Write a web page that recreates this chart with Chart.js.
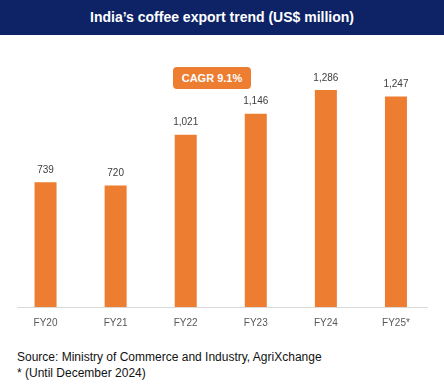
<!DOCTYPE html>
<html>
<head>
<meta charset="utf-8">
<script src="https://cdn.jsdelivr.net/npm/chart.js@4"></script>
<style>
    body {
        margin: 0;
        width: 444px;
        height: 388px;
        background: #ffffff;
        font-family: "Liberation Sans", Arial, sans-serif;
        position: relative;
        overflow: hidden;
    }
    .titleBar {
        position: absolute;
        left: 0;
        top: 0;
        width: 444px;
        height: 35px;
        background: #0d2366;
        color: #ffffff;
        font-weight: bold;
        font-size: 14px;
        line-height: 35px;
        text-align: center;
    }
    .chartBox {
        position: absolute;
        left: 0;
        top: 35px;
        width: 444px;
        height: 305px;
    }
    .cagr {
        position: absolute;
        left: 173px;
        top: 67px;
        width: 78px;
        height: 22px;
        background: #ed7d31;
        border-radius: 4px;
        color: #ffffff;
        font-weight: bold;
        font-size: 11px;
        line-height: 22px;
        text-align: center;
    }
    .source {
        position: absolute;
        left: 17px;
        top: 349px;
        font-size: 12px;
        line-height: 16px;
        color: #111111;
    }
</style>
</head>
<body>
<div class="titleBar">India’s coffee export trend (US$ million)</div>
<div class="chartBox"><canvas id="myChart"></canvas></div>
<div class="cagr">CAGR 9.1%</div>
<div class="source">Source: Ministry of Commerce and Industry, AgriXchange<br>* (Until December 2024)</div>
<script>
const years = ["FY20", "FY21", "FY22", "FY23", "FY24", "FY25*"];
const exportValues = [739, 720, 1021, 1146, 1286, 1247];

// value labels above bars + light baseline
const barLabels = {
    id: "barLabels",
    afterDatasetsDraw(chart) {
        const { ctx, chartArea } = chart;
        ctx.save();
        ctx.strokeStyle = "#d9d9d9";
        ctx.lineWidth = 1;
        ctx.beginPath();
        ctx.moveTo(17, chartArea.bottom + 0.5);
        ctx.lineTo(428, chartArea.bottom + 0.5);
        ctx.stroke();

        ctx.fillStyle = "#404040";
        ctx.font = "10px 'Liberation Sans', Arial, sans-serif";
        ctx.textAlign = "center";
        ctx.textBaseline = "bottom";
        chart.getDatasetMeta(0).data.forEach((bar, i) => {
            ctx.fillText(exportValues[i].toLocaleString("en-US"), bar.x, bar.y - 7);
        });
        ctx.restore();
    },
};

const ctx = document.querySelector("#myChart");

new Chart(ctx, {
    type: "bar",
    data: {
        labels: years,
        datasets: [
            {
                data: exportValues,
                backgroundColor: "#ed7d31",
                borderWidth: 0,
                categoryPercentage: 1,
                barPercentage: 0.314,
            },
        ],
    },
    options: {
        responsive: true,
        maintainAspectRatio: false,
        animation: false,
        layout: {
            padding: { left: 10.5, right: 13, top: 0, bottom: 0 },
        },
        plugins: {
            legend: { display: false },
            tooltip: { enabled: false },
        },
        scales: {
            x: {
                grid: { display: false, drawTicks: false },
                border: { display: false },
                ticks: {
                    color: "#595959",
                    padding: 10,
                    font: { family: "'Liberation Sans', Arial, sans-serif", size: 10 },
                },
                afterFit(scale) {
                    scale.height = 33;
                },
            },
            y: {
                display: false,
                min: 0,
                max: 1612,
            },
        },
    },
    plugins: [barLabels],
});
</script>
</body>
</html>
